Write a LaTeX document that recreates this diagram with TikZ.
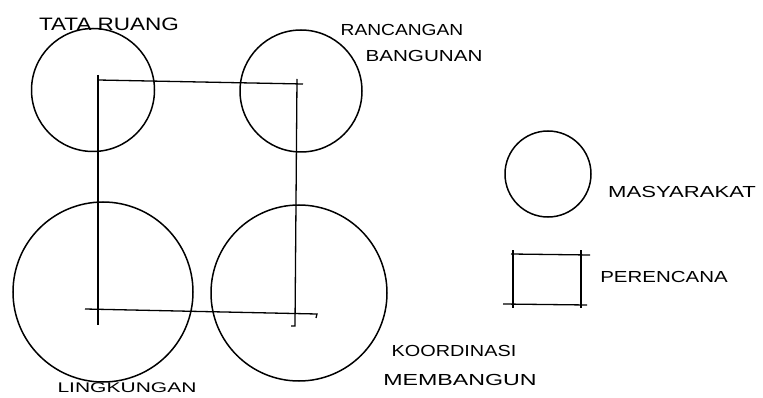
\documentclass[tikz,border=0pt]{standalone}
\usepackage{fontspec}
\setmainfont{Liberation Sans}
\begin{document}
\begin{tikzpicture}[x=1pt,y=-1pt,
  ring/.style={draw,line width=1.5pt},
  pline/.style={line width=1.3pt},
  lbl/.style={inner sep=0pt,transform shape,font=\fontsize{16}{18}\selectfont}]
\useasboundingbox (0,0) rectangle (763,398);
% circles
\draw[ring] (93,90) circle[radius=61.5];
\draw[ring] (301,91) circle[radius=61];
\draw[ring] (103,292) circle[radius=90];
\draw[ring] (299,293) circle[radius=88];
% planner rectangle
\coordinate (tl) at (98,80);
\coordinate (tr) at (303,84);
\coordinate (bl) at (85,309);
\coordinate (br) at (317,314);
\draw[pline] (tl) -- (tr);
\draw[pline] (98,75) -- (98,325);
\draw[pline] (297,79) -- (295,326) -- (291,326);
\draw[pline] (bl) -- (br) -- (316,318);
% legend
\draw[ring] (548,174) circle[radius=43];
\draw[pline] (511,254) -- (590,255);
\draw[pline] (513,250) -- (513,308);
\draw[pline] (581,250) -- (581,308);
\draw[pline] (503,304) -- (587,305);
% labels
\node[lbl,xscale=1.25,font=\fontsize{18}{20}\selectfont] (tata) at (109,24) {TATA RUANG};
\node[lbl,xscale=1.2] (ranc) at (402,30) {RANCANGAN};
\node[lbl,xscale=1.29] (bang) at (424,56) {BANGUNAN};
\node[lbl,xscale=1.38] (masy) at (682,192) {MASYARAKAT};
\node[lbl,xscale=1.28] (pere) at (664,277) {PERENCANA};
\node[lbl,xscale=1.24] (koor) at (454,351) {KOORDINASI};
\node[lbl,xscale=1.45] (memb) at (460,380) {MEMBANGUN};
\node[lbl,xscale=1.5,font=\fontsize{14}{16}\selectfont] (ling) at (127,388) {LINGKUNGAN};
\end{tikzpicture}
\end{document}
